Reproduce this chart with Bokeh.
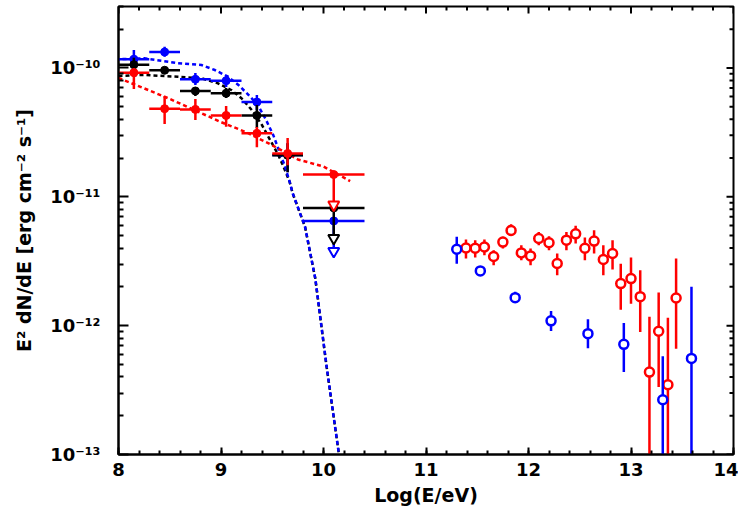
import numpy as np
from bokeh.plotting import figure
from bokeh.models import Range1d, FixedTicker, SingleIntervalTicker, CustomJSTickFormatter
from bokeh.embed import file_html
from bokeh.resources import INLINE

# ---------------- data ----------------
# Low-energy bins: log10(E/eV)
bin_center = [8.15, 8.45, 8.75, 9.05, 9.35, 9.65]
bin_lo = [8.0, 8.3, 8.6, 8.9, 9.2, 9.5]
bin_hi = [8.3, 8.6, 8.9, 9.2, 9.5, 9.8]
ul_center = 10.1
ul_lo = 9.8
ul_hi = 10.4

blue_y = [1.17e-10, 1.33e-10, 8.17e-11, 7.96e-11, 5.44e-11, 2.11e-11]
blue_hi = [1.38e-10, 1.46e-10, 9.14e-11, 8.82e-11, 6.17e-11, 2.61e-11]
blue_lo = [1.00e-10, 1.22e-10, 7.38e-11, 7.12e-11, 4.72e-11, 1.55e-11]
blue_ul = 6.5e-12

black_y = [1.06e-10, 9.6e-11, 6.63e-11, 6.36e-11, 4.28e-11, 2.10e-11]
black_hi = [1.20e-10, 1.02e-10, 7.12e-11, 7.00e-11, 5.16e-11, 2.61e-11]
black_lo = [9.31e-11, 8.98e-11, 6.06e-11, 5.85e-11, 3.42e-11, 1.55e-11]
black_ul = 8.2e-12

red_y = [9.2e-11, 4.83e-11, 4.77e-11, 4.28e-11, 3.11e-11, 2.17e-11]
red_hi = [1.00e-10, 6.06e-11, 5.74e-11, 5.07e-11, 3.48e-11, 2.86e-11]
red_lo = [6.87e-11, 3.67e-11, 3.94e-11, 3.50e-11, 2.43e-11, 1.76e-11]
red_ul = 1.49e-11

# Model curves (log10 E, log10 flux)
blue_curve_x = [8.0, 8.25, 8.58, 8.81, 8.94, 9.07, 9.17, 9.27, 9.36, 9.44, 9.51, 9.57,
                9.62, 9.67, 9.70, 9.82, 9.92, 10.03, 10.15, 10.20]
blue_curve_logy = [-9.932, -9.925, -9.963, -9.977, -10.016, -10.068, -10.132, -10.21, -10.288,
                   -10.404, -10.521, -10.65, -10.754, -10.884, -10.974, -11.233, -11.634,
                   -12.316, -12.994, -13.3]
black_curve_x = [8.0, 8.25, 8.58, 8.81, 8.97, 9.10, 9.20, 9.30, 9.40, 9.48, 9.56, 9.61,
                 9.67, 9.70, 9.82, 9.92, 10.03, 10.15, 10.20]
black_curve_logy = [-10.062, -10.054, -10.068, -10.080, -10.119, -10.171, -10.235, -10.326,
                    -10.443, -10.56, -10.676, -10.767, -10.884, -10.974, -11.233, -11.634,
                    -12.316, -12.994, -13.3]
red_curve_x = [8.0, 8.25, 8.5, 8.75, 9.0, 9.25, 9.5, 9.75, 10.0, 10.26]
red_curve_logy = [-10.078, -10.158, -10.24, -10.33, -10.42, -10.50, -10.60, -10.71, -10.765, -10.878]

# High-energy points
tev_red_x = [11.39, 11.48, 11.57, 11.66, 11.75, 11.83, 11.93, 12.02, 12.10, 12.20, 12.28, 12.37,
             12.46, 12.55, 12.64, 12.73, 12.82, 12.90, 13.00, 13.09, 13.18, 13.27, 13.36, 13.44]
tev_red_y = [4.01e-12, 3.99e-12, 4.08e-12, 3.44e-12, 4.45e-12, 5.48e-12, 3.67e-12, 3.48e-12,
             4.75e-12, 4.40e-12, 3.04e-12, 4.61e-12, 5.16e-12, 3.99e-12, 4.53e-12, 3.26e-12,
             3.63e-12, 2.12e-12, 2.32e-12, 1.68e-12, 4.36e-13, 9.04e-13, 3.48e-13, 1.64e-12]
tev_red_hi = [4.66e-12, 4.60e-12, 4.66e-12, 3.85e-12, 4.89e-12, 6.13e-12, 4.21e-12, 3.97e-12,
              5.34e-12, 4.95e-12, 3.63e-12, 5.34e-12, 5.95e-12, 4.83e-12, 5.51e-12, 4.21e-12,
              4.60e-12, 3.03e-12, 3.38e-12, 2.69e-12, 1.17e-12, 1.81e-12, 1.15e-12, 3.32e-12]
tev_red_lo = [3.32e-12, 3.38e-12, 3.52e-12, 2.94e-12, 3.97e-12, 4.97e-12, 3.22e-12, 2.94e-12,
              4.21e-12, 3.85e-12, 2.46e-12, 3.85e-12, 4.34e-12, 3.22e-12, 3.63e-12, 2.46e-12,
              2.73e-12, 1.33e-12, 1.48e-12, 8.93e-13, 1e-14, 3.34e-13, 1e-14, 6.63e-13]

tev_blue_x = [11.30, 11.53, 11.87, 12.22, 12.58, 12.93, 13.31, 13.59]
tev_blue_y = [3.92e-12, 2.66e-12, 1.65e-12, 1.09e-12, 8.67e-13, 7.16e-13, 2.66e-13, 5.57e-13]
tev_blue_hi = [4.89e-12, 2.84e-12, 1.83e-12, 1.30e-12, 1.12e-12, 1.05e-12, 5.78e-13, 2.0e-12]
tev_blue_lo = [3.03e-12, 2.46e-12, 1.53e-12, 9.08e-13, 6.67e-13, 4.36e-13, 1e-14, 1e-14]

X_MIN, X_MAX = 8, 14
Y_MIN, Y_MAX = 1e-13, 3e-10
x_major = [8, 9, 10, 11, 12, 13, 14]
y_major = [1e-13, 1e-12, 1e-11, 1e-10]

# ---------------- figure ----------------
FONT = "DejaVu Sans"
p = figure(width=738, height=508, output_backend="svg", toolbar_location=None,
           x_range=Range1d(X_MIN, X_MAX), y_range=Range1d(Y_MIN, Y_MAX), y_axis_type="log",
           min_border_left=118, min_border_right=5, min_border_top=6, min_border_bottom=50)
p.background_fill_color = "white"
p.border_fill_color = "white"
p.grid.visible = False
p.outline_line_color = "black"
p.outline_line_width = 2

x_minor = [m + k * 0.2 for m in x_major[:-1] for k in range(1, 5)]
y_minor = [m * d for d in y_major for m in range(2, 10) if m * d <= Y_MAX]
yticker = FixedTicker(ticks=y_major, minor_ticks=y_minor)
xticker = SingleIntervalTicker(interval=1, num_minor_ticks=5)

p.xaxis.ticker = xticker
p.yaxis.ticker = yticker
p.yaxis.formatter = CustomJSTickFormatter(code="""
const sup = {'-':'\u207b','0':'\u2070','1':'\u00b9','2':'\u00b2','3':'\u00b3','4':'\u2074',
             '5':'\u2075','6':'\u2076','7':'\u2077','8':'\u2078','9':'\u2079'};
const e = String(Math.round(Math.log10(tick)));
let s = '';
for (const c of e) { s += sup[c]; }
return '10' + s;
""")

for ax in [p.xaxis[0], p.yaxis[0]]:
    ax.axis_line_width = 2
    ax.major_tick_out = 0
    ax.minor_tick_out = 0
    ax.major_tick_line_width = 2
    ax.minor_tick_line_width = 2
    ax.major_label_text_font = FONT
    ax.major_label_text_font_style = "bold"
    ax.major_label_text_font_size = "18px"
    ax.major_label_text_color = "black"
    ax.axis_label_text_font = FONT
    ax.axis_label_text_font_style = "bold"
    ax.axis_label_text_font_size = "19px"
    ax.axis_label_text_color = "black"

p.xaxis.major_tick_in = 7
p.xaxis.minor_tick_in = 4
p.yaxis.major_tick_in = 10
p.yaxis.minor_tick_in = 5
p.xaxis.major_label_standoff = 8
p.yaxis.major_label_standoff = 18
p.xaxis.axis_label = "Log(E/eV)"
p.yaxis.axis_label = "E\u00b2 dN/dE [erg cm\u207b\u00b2 s\u207b\u00b9]"
p.xaxis.axis_label_standoff = 5
p.yaxis.axis_label_standoff = 12

# ticks on the top and right frame edges (half of each dash is clipped by the frame)
p.scatter(x_major, [Y_MAX] * len(x_major), marker="dash", angle=np.pi / 2, size=14,
          line_color="black", line_width=2)
p.scatter(x_minor, [Y_MAX] * len(x_minor), marker="dash", angle=np.pi / 2, size=8,
          line_color="black", line_width=2)
p.scatter([X_MAX] * len(y_major), y_major, marker="dash", size=14,
          line_color="black", line_width=2)
p.scatter([X_MAX] * len(y_minor), y_minor, marker="dash", size=8,
          line_color="black", line_width=2)

# ---------------- model curves ----------------
p.line(black_curve_x, [10 ** v for v in black_curve_logy], color="black", line_width=2.5,
       line_dash="4 3")
p.line(blue_curve_x, [10 ** v for v in blue_curve_logy], color="blue", line_width=2.5,
       line_dash="4 3", line_dash_offset=3)
p.line(red_curve_x, [10 ** v for v in red_curve_logy], color="red", line_width=2.5,
       line_dash="4 3")

# ---------------- low-energy points ----------------
def lowe(color, y, lo, hi, ul):
    p.segment(x0=bin_lo, x1=bin_hi, y0=y, y1=y, color=color, line_width=2.5)
    p.segment(x0=bin_center, x1=bin_center, y0=lo, y1=hi, color=color, line_width=2.5)
    p.scatter(bin_center, y, size=8, marker="circle", color=color)
    # upper limit
    p.segment(x0=[ul_lo], x1=[ul_hi], y0=[ul], y1=[ul], color=color, line_width=2.5)
    p.segment(x0=[ul_center], x1=[ul_center], y0=[ul], y1=[ul / 10 ** 0.22], color=color,
              line_width=2.5)
    p.scatter([ul_center], [ul], size=8, marker="circle", color=color)
    p.scatter([ul_center], [ul / 10 ** 0.235], size=11, marker="inverted_triangle",
              line_color=color, fill_color="white", line_width=2)

lowe("blue", blue_y, blue_lo, blue_hi, blue_ul)
lowe("black", black_y, black_lo, black_hi, black_ul)
lowe("red", red_y, red_lo, red_hi, red_ul)

# ---------------- high-energy points ----------------
p.segment(x0=tev_red_x, x1=tev_red_x, y0=tev_red_lo, y1=tev_red_hi, color="red", line_width=2.5)
p.scatter(tev_red_x, tev_red_y, size=9, marker="circle", line_color="red", fill_color="white",
          line_width=2.5)
p.segment(x0=tev_blue_x, x1=tev_blue_x, y0=tev_blue_lo, y1=tev_blue_hi, color="blue",
          line_width=2.5)
p.scatter(tev_blue_x, tev_blue_y, size=9, marker="circle", line_color="blue",
          fill_color="white", line_width=2.5)

open("out.html", "w").write(file_html(p, INLINE))
